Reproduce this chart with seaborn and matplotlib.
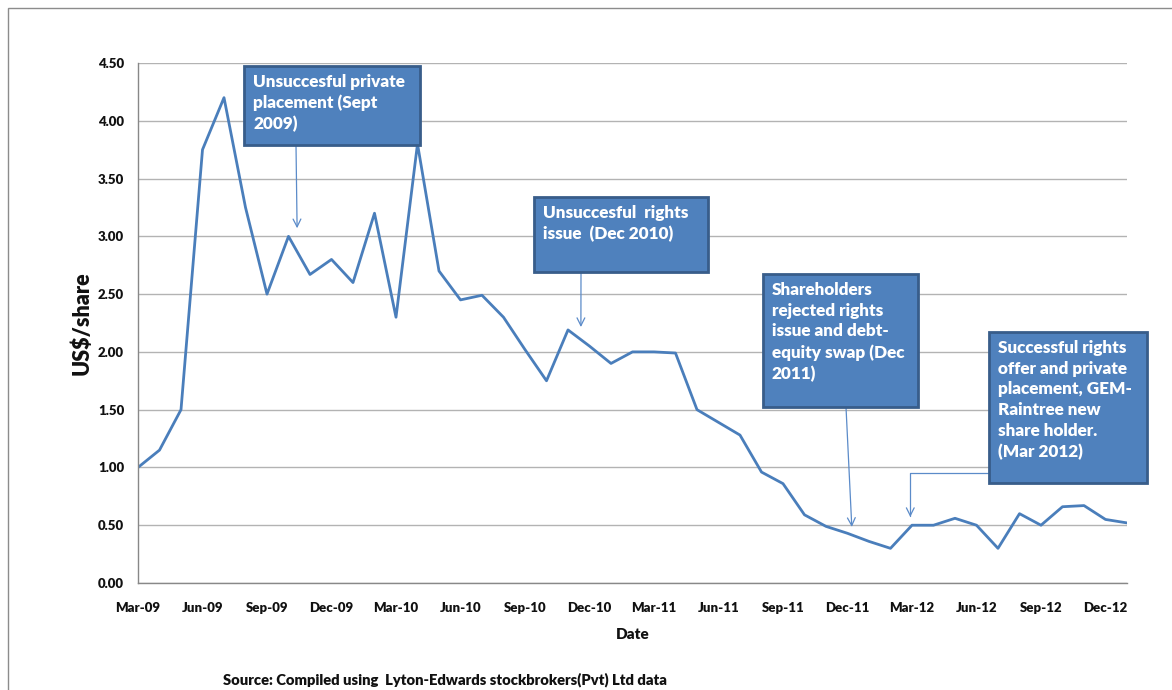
import numpy as np
import pandas as pd
import matplotlib
matplotlib.use("Agg")
import matplotlib.pyplot as plt
from matplotlib.patches import Rectangle
import seaborn as sns

# ---- data ----
months = ["Mar-09","Apr-09","May-09","Jun-09","Jul-09","Aug-09","Sep-09","Oct-09","Nov-09","Dec-09",
          "Jan-10","Feb-10","Mar-10","Apr-10","May-10","Jun-10","Jul-10","Aug-10","Sep-10","Oct-10",
          "Nov-10","Dec-10","Jan-11","Feb-11","Mar-11","Apr-11","May-11","Jun-11","Jul-11","Aug-11",
          "Sep-11","Oct-11","Nov-11","Dec-11","Jan-12","Feb-12","Mar-12","Apr-12","May-12","Jun-12",
          "Jul-12","Aug-12","Sep-12","Oct-12","Nov-12","Dec-12","Jan-13"]
price = [1.00, 1.15, 1.50, 3.75, 4.20, 3.25, 2.50, 3.00, 2.67, 2.80,
         2.60, 3.20, 2.30, 3.80, 2.70, 2.45, 2.49, 2.30, 2.02, 1.75,
         2.19, 2.05, 1.90, 2.00, 2.00, 1.99, 1.50, 1.39, 1.28, 0.96,
         0.86, 0.59, 0.49, 0.43, 0.36, 0.30, 0.50, 0.50, 0.56, 0.50,
         0.30, 0.60, 0.50, 0.66, 0.67, 0.55, 0.52]
tick_labels = ["Mar-09","Jun-09","Sep-09","Dec-09","Mar-10","Jun-10","Sep-10","Dec-10",
               "Mar-11","Jun-11","Sep-11","Dec-11","Mar-12","Jun-12","Sep-12","Dec-12"]
y_ticks = [0.0, 0.5, 1.0, 1.5, 2.0, 2.5, 3.0, 3.5, 4.0, 4.5]

notes = ["Unsuccesful private\nplacement (Sept\n2009)",
         "Unsuccesful  rights\nissue  (Dec 2010)",
         "Shareholders\nrejected rights\nissue and debt-\nequity swap (Dec\n2011)",
         "Successful rights\noffer and private\nplacement, GEM-\nRaintree new\nshare holder.\n(Mar 2012)"]

df = pd.DataFrame({"idx": np.arange(len(months)), "month": months, "price": price})

sns.set_theme(style="white")
plt.rcParams["font.family"] = ["Lato", "DejaVu Sans"]

W, H = 1172, 690
fig = plt.figure(figsize=(W / 100, H / 100), dpi=100)
ax = fig.add_axes([138 / W, 1 - 583 / H, (1127 - 138) / W, (583 - 63) / H])

sns.lineplot(data=df, x="idx", y="price", ax=ax, color="#4A7EBB", linewidth=2.0)

ax.set_xlim(0, len(months) - 1)
ax.set_ylim(0, 4.5)
ax.set_yticks(y_ticks)
ax.set_yticklabels([f"{v:.2f}" for v in y_ticks], fontsize=9.5, fontweight="heavy", color="#111111")
tick_pos = [months.index(t) for t in tick_labels]
ax.set_xticks(tick_pos)
ax.set_xticklabels(tick_labels, fontsize=9.5, fontweight="heavy", color="#111111")
ax.tick_params(axis="both", which="both", direction="out", length=6, width=1,
               color="#888888", pad=4)
ax.tick_params(axis="x", pad=8)
ax.yaxis.grid(True, color="#B3B3B3", linewidth=1)
ax.set_axisbelow(True)
for s in ["top", "right"]:
    ax.spines[s].set_visible(False)
for s in ["left", "bottom"]:
    ax.spines[s].set_color("#888888")
    ax.spines[s].set_linewidth(1)

ax.set_xlabel("Date", fontsize=11, fontweight="heavy", labelpad=10, color="#111111")
ax.set_ylabel("US$/share", fontsize=15.5, fontweight="heavy", labelpad=4, color="#111111")

# source note
fig.text(445 / W, 1 - 680 / H, "Source: Compiled using  Lyton-Edwards stockbrokers(Pvt) Ltd data",
         ha="center", va="center", fontsize=10.6, fontweight="heavy", color="#111111")

# outer frame
fig.patches.append(Rectangle((8 / W, -0.01), 1.02, 1 - 8 / H + 0.01, transform=fig.transFigure,
                             fill=False, edgecolor="#8C8C8C", linewidth=1))

def fp(x, y):
    return (x / W, 1 - y / H)

boxes = [(244, 66, 420, 145), (534, 197, 708, 272), (763, 274, 918, 407), (989, 332, 1147, 483)]
for (x0, y0, x1, y1), txt in zip(boxes, notes):
    fig.patches.append(Rectangle(fp(x0, y1), (x1 - x0) / W, (y1 - y0) / H,
                                 transform=fig.transFigure, facecolor="#4F81BD",
                                 edgecolor="#385D8A", linewidth=2, zorder=5))
    fig.text((x0 + 9) / W, 1 - (y0 + 8) / H, txt, ha="left", va="top", color="white",
             fontsize=12.3, fontweight="heavy", linespacing=1.36, zorder=6)

# arrows: (start in figure px, target in data coords: month index, value)
arrow_col = "#5B8BC9"
arrows = [((296, 145), (7.4, 3.07), "arc3"),
          ((581, 272), (20.6, 2.215), "arc3"),
          ((846, 407), (33.2, 0.485), "arc3"),
          ((989, 473), (35.92, 0.571), "angle,angleA=180,angleB=90,rad=0")]
for (sx, sy), (tx, ty), cs in arrows:
    ax.annotate("", xy=(tx, ty), xycoords="data", xytext=fp(sx, sy), textcoords="figure fraction",
                arrowprops=dict(arrowstyle="->", color=arrow_col, lw=0.9, shrinkA=0, shrinkB=0,
                                connectionstyle=cs, mutation_scale=14),
                annotation_clip=False, zorder=4)

fig.savefig("out.png", dpi=100)
